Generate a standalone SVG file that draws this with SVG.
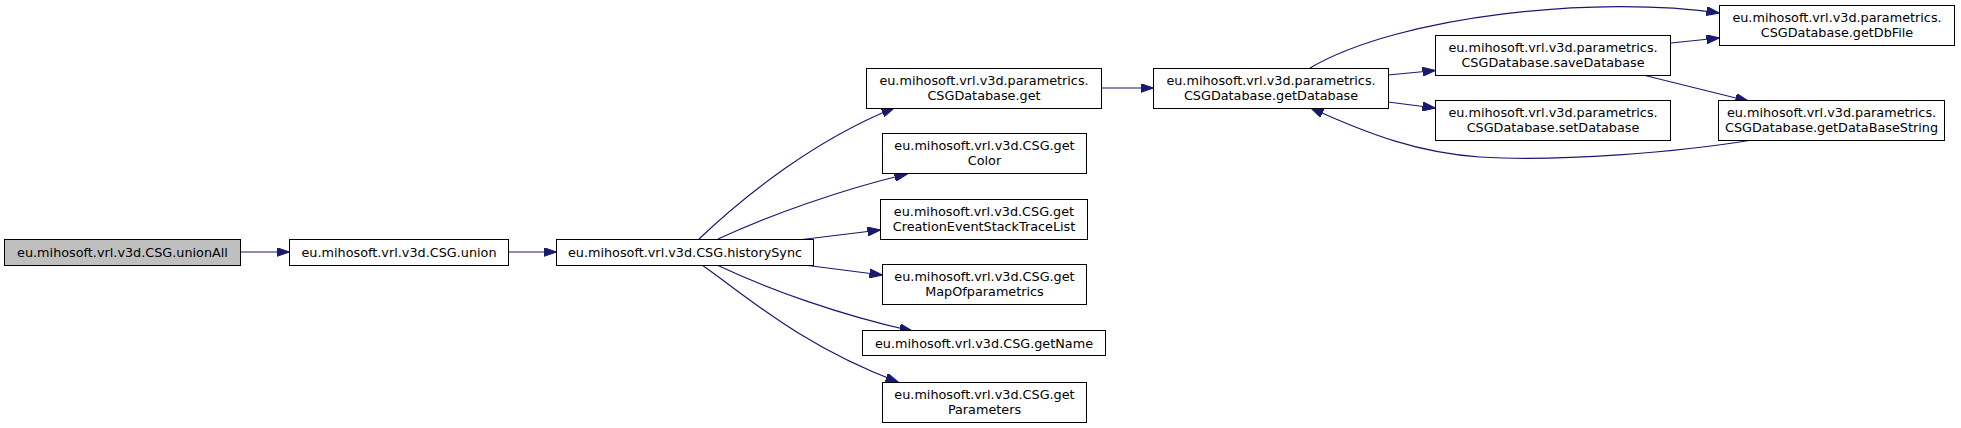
<svg xmlns="http://www.w3.org/2000/svg" width="1961" height="428" viewBox="0 0 1961 428">
<style>
  .n rect { fill: #ffffff; stroke: #000000; stroke-width: 1; }
  .n.root rect { fill: #bfbfbf; }
  .n text { font-family: "DejaVu Sans", "Liberation Sans", sans-serif; font-size: 12.8px; fill: #000000; text-anchor: middle; }
  .e path { fill: none; stroke: #191970; stroke-width: 1.2; marker-end: url(#arr); }
</style>
<defs>
  <marker id="arr" viewBox="0 0 13 9" refX="12.5" refY="4.5" markerWidth="13" markerHeight="9" markerUnits="userSpaceOnUse" orient="auto">
    <path d="M0,0 L13,4.5 L0,9 z" fill="#191970" stroke="#191970" stroke-width="1"/>
  </marker>
</defs>
<rect width="1961" height="428" fill="#ffffff"/>
<g id="connectors" class="e">
  <path d="M241,252 L289,252"/>
  <path d="M509,252 L556,252"/>
  <path d="M699,239 C745,195 815,140 894,108"/>
  <path d="M718,239 C770,215 840,190 907,174"/>
  <path d="M798,240 L880,230"/>
  <path d="M804,265 L882,275"/>
  <path d="M717,265 C770,290 840,315 912,331"/>
  <path d="M702,265 C745,295 800,345 898,382"/>
  <path d="M1101,88 L1153,88"/>
  <path d="M1310,68 C1400,15 1600,-5 1719,13"/>
  <path d="M1388,75 L1435,70.5"/>
  <path d="M1388,102 L1435,108"/>
  <path d="M1671,43 L1719,38"/>
  <path d="M1643,75 L1748,101"/>
  <path d="M1752,140 C1680,152 1560,162 1480,157 C1420,153 1370,135 1311,108"/>
</g>
<g id="node-unionAll" class="n root">
  <rect x="4.5" y="239.5" width="236" height="26"/>
  <text x="122.5" y="257">eu.mihosoft.vrl.v3d.CSG.unionAll</text>
</g>
<g id="node-union" class="n">
  <rect x="289.5" y="239.5" width="219" height="26"/>
  <text x="399" y="257">eu.mihosoft.vrl.v3d.CSG.union</text>
</g>
<g id="node-historySync" class="n">
  <rect x="556.5" y="239.5" width="257" height="26"/>
  <text x="685" y="257">eu.mihosoft.vrl.v3d.CSG.historySync</text>
</g>
<g id="node-get" class="n">
  <rect x="866.5" y="68.5" width="235" height="40"/>
  <text x="984" y="84.5">eu.mihosoft.vrl.v3d.parametrics.</text>
  <text x="984" y="99.5">CSGDatabase.get</text>
</g>
<g id="node-getColor" class="n">
  <rect x="882.5" y="133.5" width="204" height="40"/>
  <text x="984.5" y="149.5">eu.mihosoft.vrl.v3d.CSG.get</text>
  <text x="984.5" y="164.5">Color</text>
</g>
<g id="node-getCreation" class="n">
  <rect x="880.5" y="199.5" width="207" height="40"/>
  <text x="984" y="215.5">eu.mihosoft.vrl.v3d.CSG.get</text>
  <text x="984" y="230.5">CreationEventStackTraceList</text>
</g>
<g id="node-getMap" class="n">
  <rect x="882.5" y="264.5" width="204" height="40"/>
  <text x="984.5" y="280.5">eu.mihosoft.vrl.v3d.CSG.get</text>
  <text x="984.5" y="295.5">MapOfparametrics</text>
</g>
<g id="node-getName" class="n">
  <rect x="862.5" y="330.5" width="243" height="25"/>
  <text x="984" y="347.5">eu.mihosoft.vrl.v3d.CSG.getName</text>
</g>
<g id="node-getParameters" class="n">
  <rect x="882.5" y="382.5" width="204" height="40"/>
  <text x="984.5" y="398.5">eu.mihosoft.vrl.v3d.CSG.get</text>
  <text x="984.5" y="413.5">Parameters</text>
</g>
<g id="node-getDatabase" class="n">
  <rect x="1153.5" y="68.5" width="235" height="40"/>
  <text x="1271" y="84.5">eu.mihosoft.vrl.v3d.parametrics.</text>
  <text x="1271" y="99.5">CSGDatabase.getDatabase</text>
</g>
<g id="node-saveDatabase" class="n">
  <rect x="1435.5" y="35.5" width="235" height="40"/>
  <text x="1553" y="51.5">eu.mihosoft.vrl.v3d.parametrics.</text>
  <text x="1553" y="66.5">CSGDatabase.saveDatabase</text>
</g>
<g id="node-setDatabase" class="n">
  <rect x="1435.5" y="100.5" width="235" height="40"/>
  <text x="1553" y="116.5">eu.mihosoft.vrl.v3d.parametrics.</text>
  <text x="1553" y="131.5">CSGDatabase.setDatabase</text>
</g>
<g id="node-getDbFile" class="n">
  <rect x="1719.5" y="5.5" width="235" height="40"/>
  <text x="1837" y="21.5">eu.mihosoft.vrl.v3d.parametrics.</text>
  <text x="1837" y="36.5">CSGDatabase.getDbFile</text>
</g>
<g id="node-getDataBaseString" class="n">
  <rect x="1718.5" y="100.5" width="226" height="40"/>
  <text x="1831.5" y="116.5">eu.mihosoft.vrl.v3d.parametrics.</text>
  <text x="1831.5" y="131.5">CSGDatabase.getDataBaseString</text>
</g>
</svg>
